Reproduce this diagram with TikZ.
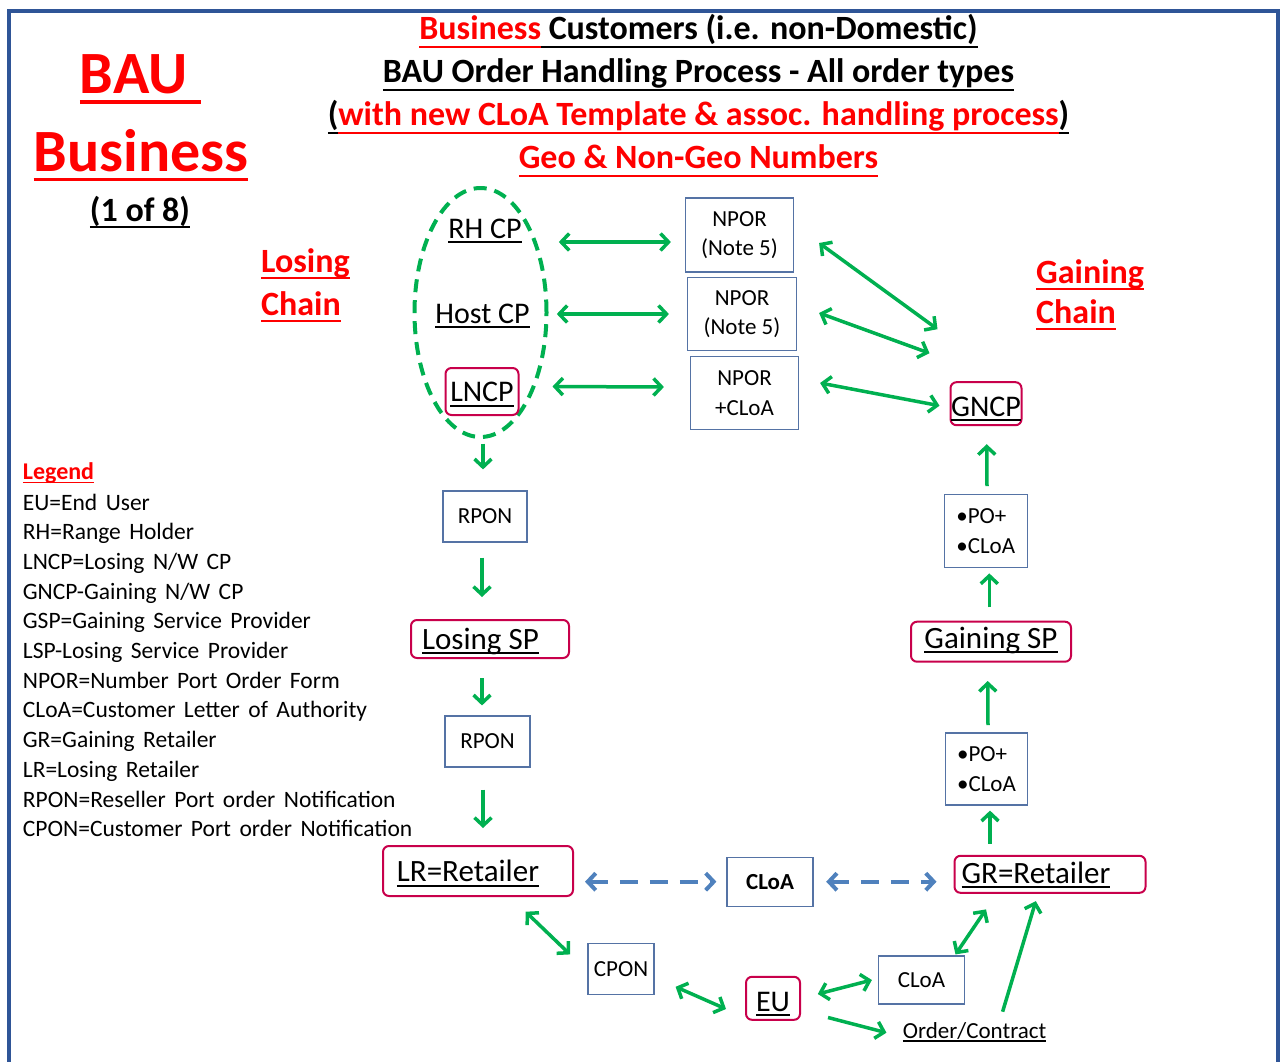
\documentclass[tikz,border=0pt]{standalone}
\usepackage{fontspec}
\setmainfont{Carlito}
\usetikzlibrary{arrows.meta,calc,shapes.geometric}
\definecolor{grn}{RGB}{0,176,80}
\definecolor{crim}{RGB}{200,0,75}
\definecolor{dblue}{RGB}{79,129,189}
\definecolor{boxb}{RGB}{85,115,165}
\definecolor{frm}{RGB}{47,85,151}
\definecolor{pred}{RGB}{255,0,0}
\newcommand\myul[2][0.16em]{\setbox0=\hbox{#2}\rlap{\rule[-#1]{\wd0}{0.06em}}\box0}
\tikzset{
  ttl/.style={inner sep=0pt, font=\fontsize{34}{40}\selectfont\bfseries},
  big/.style={inner sep=0pt, text=pred, font=\fontsize{60}{66}\selectfont\bfseries},
  lab/.style={inner sep=0pt, font=\fontsize{30}{36}\selectfont},
  box/.style={draw=boxb, line width=1.2pt, fill=white, inner sep=0pt, align=center,
              font=\fontsize{23}{29.7}\selectfont},
  rbox/.style={draw=crim, line width=2pt, rounded corners=6pt, fill=white, inner sep=0pt,
               text depth=0pt, font=\fontsize{30}{36}\selectfont},
  legtxt/.style={inner sep=0pt, anchor=base west, font=\fontsize{23.5}{28}\selectfont},
  garr/.style={draw=grn, line width=3.5pt, >={Straight Barb[length=8pt,width=17pt]}},
  barr/.style={draw=dblue, line width=4pt, dash pattern=on 18pt off 12pt,
               >={Straight Barb[length=8pt,width=17pt]}}
}
\begin{document}
\begin{tikzpicture}[x=1pt,y=-1pt]
\useasboundingbox (0,0) rectangle (1283,1061);
% frame
\draw[frm, line width=4pt] (9.3,1065) -- (9.3,11.3) -- (1278,11.3) -- (1278,1065);

% titles
\node[ttl, anchor=base] (t1) at (698.5,39.5) {\textcolor{pred}{\myul[0.25em]{Business}}\myul[0.25em]{\ Customers (i.e. non-Domestic)}};
\node[ttl, anchor=base] (t2) at (698.5,82.5) {\myul[0.25em]{BAU Order Handling Process - All order types}};
\node[ttl, anchor=base] (t3) at (698.5,125.5) {\myul[0.25em]{(}\textcolor{pred}{\myul[0.25em]{with new CLoA Template \& assoc. handling process}}\myul[0.25em]{)}};
\node[ttl, anchor=base, text=pred] (t4) at (698.5,168.5) {\myul[0.25em]{Geo \& Non-Geo Numbers}};

\node[big, anchor=base] (bau) at (140.5,93) {\myul[0.18em]{BAU\ }};
\node[big, anchor=base] (bus) at (141,171) {\myul[0.17em]{Business}};
\node[ttl, anchor=base] (pg) at (140,221) {\myul[0.2em]{(1 of 8)}};

\node[ttl, anchor=base west, text=pred] (lc1) at (261,272.5) {\myul[0.2em]{Losing}};
\node[ttl, anchor=base west, text=pred] (lc2) at (261,315.5) {\myul[0.2em]{Chain}};
\node[ttl, anchor=base west, text=pred] (gc1) at (1036,283) {\myul[0.2em]{Gaining}};
\node[ttl, anchor=base west, text=pred] (gc2) at (1036,323) {\myul[0.2em]{Chain}};

% losing group
\node[ellipse, draw=grn, line width=4pt, dash pattern=on 13pt off 8pt,
      minimum width=132pt, minimum height=249pt, inner sep=0pt] (ell) at (480.5,312.5) {};
\node[lab, anchor=base] (rhcp) at (485,238) {\myul{RH CP}};
\node[lab, anchor=base] (hostcp) at (482.5,323) {\myul{Host CP}};
\node[rbox, text height=20.4pt, minimum width=73pt, minimum height=47pt] (lncp) at (482,391.5) {\myul{LNCP}};

% NPOR boxes
\node[box, minimum width=108pt, minimum height=74pt] (npor1) at (739.5,235) {NPOR\\(Note 5)};
\node[box, minimum width=109pt, minimum height=73pt] (npor2) at (742,314) {NPOR\\(Note 5)};
\node[box, minimum width=108pt, minimum height=73pt] (npor3) at (744.5,393) {NPOR\\+CLoA};

% gaining chain
\node[rbox, text height=25pt, minimum width=71pt, minimum height=43pt] (gncp) at (986,403.7) {\myul{GNCP}};
\node[box, minimum width=83pt, minimum height=73pt, align=left] (po1) at (985.7,531.3) {•PO+\\•CLoA};
\node[rbox, text height=13pt, minimum width=160pt, minimum height=40pt, font=\fontsize{31}{36}\selectfont] (gsp) at (991,641.7) {\myul{Gaining SP}};
\node[box, minimum width=82pt, minimum height=72pt, align=left] (po2) at (986.5,769) {•PO+\\•CLoA};
\node[rbox, text height=18pt, minimum width=191pt, minimum height=37pt, font=\fontsize{31}{36}\selectfont] (gr) at (1050,874.3) {\myul{GR=Retailer}\hspace*{28pt}};

% losing chain
\node[box, minimum width=84pt, minimum height=51pt] (rpon1) at (485,516.5) {RPON};
\node[rbox, text height=20pt, minimum width=158pt, minimum height=38pt, font=\fontsize{31}{36}\selectfont] (losp) at (490,639) {\myul{Losing SP}\hspace*{19pt}};
\node[box, minimum width=85pt, minimum height=51pt] (rpon2) at (487.5,741.5) {RPON};
\node[rbox, text height=21.4pt, minimum width=190pt, minimum height=50pt, font=\fontsize{31}{36}\selectfont] (lr) at (478,871) {\myul{LR=Retailer}\hspace*{20pt}};

% bottom
\node[box, minimum width=86pt, minimum height=49pt, font=\fontsize{23}{28}\selectfont\bfseries] (cloam) at (770,882.3) {CLoA};
\node[box, minimum width=66pt, minimum height=51pt] (cpon) at (621,968.8) {CPON};
\node[rbox, text height=26pt, minimum width=54pt, minimum height=43pt] (eu) at (773,998.3) {\myul{EU}};
\node[box, minimum width=86pt, minimum height=48pt] (cloas) at (921.5,980) {CLoA};
\node[inner sep=0pt, anchor=base, font=\fontsize{23}{28}\selectfont] (order) at (974.6,1038.3) {\myul[0.14em]{Order/Contract}};

% legend
\node[legtxt, text=pred, font=\fontsize{24}{28}\selectfont\bfseries] (leg0) at (22.7,479.5) {\myul{Legend}};
\foreach \t [count=\i] in {{EU=End User},{RH=Range Holder},{LNCP=Losing N/W CP},{GNCP-Gaining N/W CP},
  {GSP=Gaining Service Provider},{LSP-Losing Service Provider},{NPOR=Number Port Order Form},
  {CLoA=Customer Letter of Authority},{GR=Gaining Retailer},{LR=Losing Retailer},
  {RPON=Reseller Port order Notification},{CPON=Customer Port order Notification}}
  \node[legtxt] (leg\i) at (22.7,{510+29.7*(\i-1)}) {\spaceskip=0.36em plus 0.1em\relax\t};

% arrows: losing CPs to NPOR
\draw[garr,<->] ($(rhcp.base east)+(37,4)$) -- ($(npor1.west)+(-14,7)$);
\draw[garr,<->] ($(hostcp.base east)+(27,-9)$) -- ($(npor2.west)+(-18,0)$);
\draw[garr,<->] ($(lncp.east)+(33,-5)$) -- ($(npor3.west)+(-26,-6)$);
% NPOR to GNCP
\draw[garr,<->] ($(npor1.east)+(25,8)$) -- ($(gncp.north west)+(-12,-52)$);
\draw[garr,<->] ($(npor2.east)+(22,-1)$) -- ($(gncp.north west)+(-20,-28)$);
\draw[garr,<->] ($(npor3.east)+(21,-10)$) -- ($(gncp.west)+(-10,2)$);
% losing chain down
\draw[garr,->] ($(ell.south)+(2.5,4.5)$) -- ($(rpon1.north)+(-2,-21)$);
\draw[garr,->] ($(rpon1.south)+(-3,15)$) -- ($(losp.north)+(-8,-22)$);
\draw[garr,->] ($(losp.south)+(-8,19)$) -- ($(rpon2.north)+(-5.5,-10)$);
\draw[garr,->] ($(rpon2.south)+(-4.5,22)$) -- ($(lr.north)+(5,-17)$);
% gaining chain up
\draw[garr,->] ($(gr.north)+(-60,-11)$) -- ($(po2.south)+(3.5,5)$);
\draw[garr,->] ($(po2.north)+(1.5,-7.3)$) -- ($(gsp.south)+(-3.3,18.3)$);
\draw[garr,->] ($(gsp.north)+(-1.7,-13.4)$) -- ($(po1.south)+(3.6,5)$);
\draw[garr,->] ($(po1.north)+(1.3,-8)$) -- ($(gncp.south)+(0.7,18)$);
% dashed CLoA
\draw[barr,<->] ($(lr.east)+(11,10.7)$) -- ($(cloam.west)+(-10,-0.6)$);
\draw[barr,<->] ($(cloam.east)+(12.6,-0.6)$) -- ($(gr.west)+(-17,7.4)$);
% bottom
\draw[garr,<->] ($(lr.south)+(47.6,14.7)$) -- ($(cpon.north)+(-51,11.7)$);
\draw[garr,<->] ($(cpon.east)+(21,18)$) -- ($(eu.west)+(-19,10.7)$);
\draw[garr,<->] ($(eu.east)+(16.8,-4.3)$) -- ($(cloas.west)+(-6,0)$);
\draw[garr,<->] ($(cloas.north)+(34,-1)$) -- ($(gr.south)+(-64,15.6)$);
\draw[garr,->] ($(eu.south east)+(27,-3.3)$) -- ($(order.base west)+(-16.3,-5.6)$);
\draw[garr,->] ($(order.base)+(28,-26.6)$) -- ($(gr.south)+(-14.2,7.3)$);
\end{tikzpicture}
\end{document}
